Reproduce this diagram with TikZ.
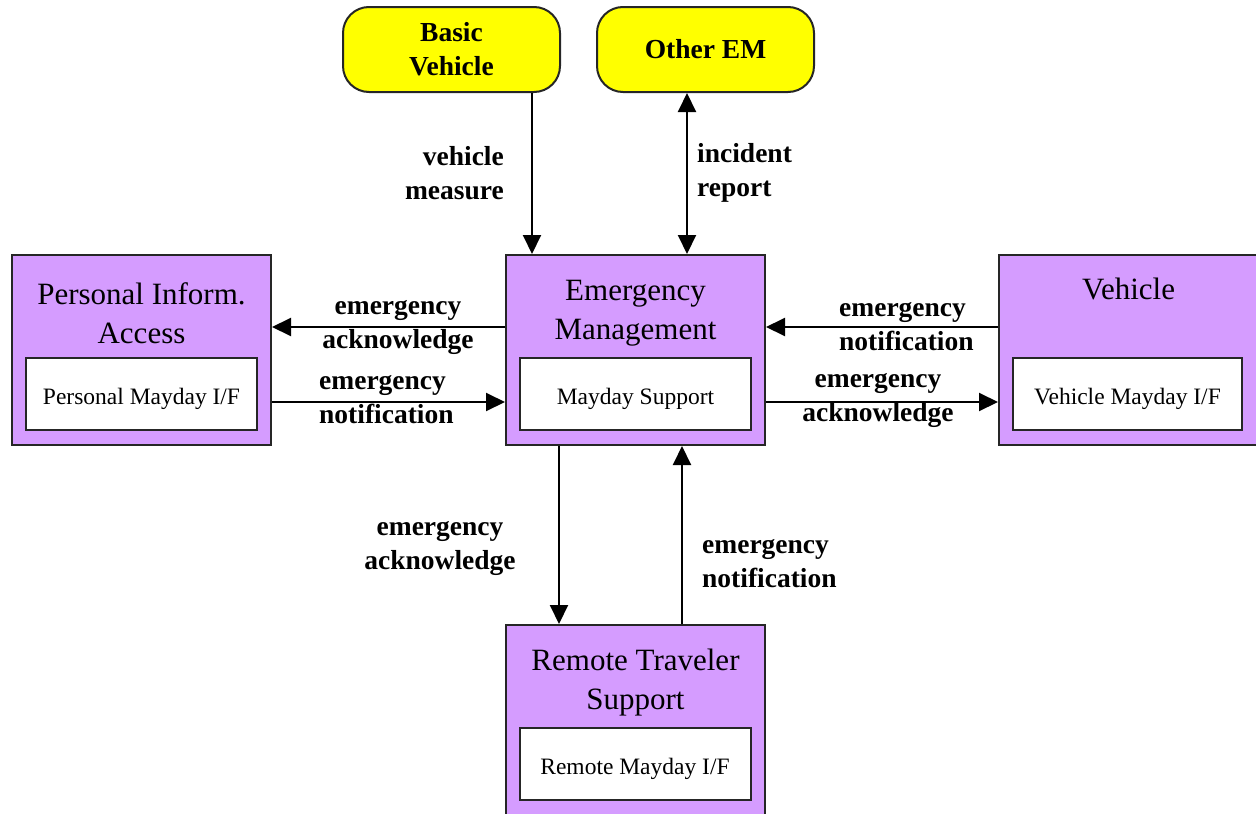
\documentclass[tikz,border=0pt]{standalone}
\usepackage{fontspec}
\setmainfont{Liberation Serif}
\usetikzlibrary{arrows.meta,positioning,calc}
\definecolor{unitfill}{RGB}{213,156,255}
\definecolor{termfill}{RGB}{255,255,0}

\begin{document}
\begin{tikzpicture}[
  x=1pt,y=-1pt,
  unit/.style={draw=black!85,line width=2pt,fill=unitfill,minimum width=259pt,minimum height=190pt,inner sep=0pt},
  title/.style={align=center,font=\fontsize{31}{39}\selectfont},
  module/.style={draw=black!85,line width=2pt,fill=white,minimum width=231pt,minimum height=72pt,inner sep=0pt,text height=26pt,text depth=5pt,font=\fontsize{23.5}{28}\selectfont},
  term/.style={draw=black!85,line width=2pt,fill=termfill,rounded corners=26pt,minimum width=217pt,minimum height=85pt,align=center,font=\fontsize{27.5}{34}\selectfont\bfseries},
  flow/.style={align=center,font=\fontsize{27.5}{34}\selectfont\bfseries,inner sep=0pt},
  arrow/.style={-{Triangle[length=19pt,width=18pt]},line width=2pt},
  twoway/.style={{Triangle[length=19pt,width=18pt]}-{Triangle[length=19pt,width=18pt]},line width=2pt}
]
\useasboundingbox (0,0) rectangle (1256,814);

% terminators
\node[term] (bv) at (451.5,49.5) {Basic\\Vehicle};
\node[term] (oem) at (705.5,49.5) {Other EM};

% subsystems
\node[unit] (pia) at (141.5,350) {};
\node[title] (piat) at (141.5,313) {Personal Inform.\\Access};
\node[module] (pmif) at (141.5,394) {Personal Mayday I/F};

\node[unit] (em) at (635.5,350) {};
\node[title] (emt) at (635.5,313) {Emergency\\Management};
\node[module] (ms) at (635.5,394) {Mayday Support};

\node[unit] (veh) at (1128.5,350) {};
\node[title] (veht) at (1128.5,289) {Vehicle};
\node[module,minimum width=229pt] (vmif) at (1127.5,394) {Vehicle Mayday I/F};

\node[unit] (rts) at (635.5,720) {};
\node[title] (rtst) at (635.5,683) {Remote Traveler\\Support};
\node[module] (rmif) at (635,764) {Remote Mayday I/F};

% flows
\draw[arrow] ([xshift=27pt]em.north west |- bv.south) -- ([xshift=27pt]em.north west);
\draw[twoway] ([xshift=182pt]em.north west |- oem.south) -- ([xshift=182pt]em.north west);
\draw[arrow] ([yshift=23pt]em.west) -- ([yshift=23pt]em.west -| pia.east);
\draw[arrow] ([yshift=-52pt]pia.east) -- ([yshift=-52pt]pia.east -| em.west);
\draw[arrow] ([yshift=23pt]veh.west) -- ([yshift=23pt]veh.west -| em.east);
\draw[arrow] ([yshift=-52pt]em.east) -- ([yshift=-52pt]em.east -| veh.west);
\draw[arrow] ([xshift=54pt]em.south west) -- ([xshift=54pt]em.south west |- rts.north);
\draw[arrow] ([xshift=177pt]em.south west |- rts.north) -- ([xshift=177pt]em.south west);

% flow labels
\node[flow,align=right,anchor=east] (vmeas) at (504,173) {vehicle\\measure};
\node[flow,align=left,anchor=west] (irep) at (697,173) {incident\\report};
\node[flow] (pack) at (398,327) {emergency\\acknowledge};
\node[flow,align=left,anchor=west] (pnot) at (319,400) {emergency\\notification};
\node[flow,align=left,anchor=west] (vnot) at (839,327) {emergency\\notification};
\node[flow] (vack) at (878,400) {emergency\\acknowledge};
\node[flow] (rack) at (440,548) {emergency\\acknowledge};
\node[flow,align=left,anchor=west] (rnot) at (702,564) {emergency\\notification};
\end{tikzpicture}
\end{document}
